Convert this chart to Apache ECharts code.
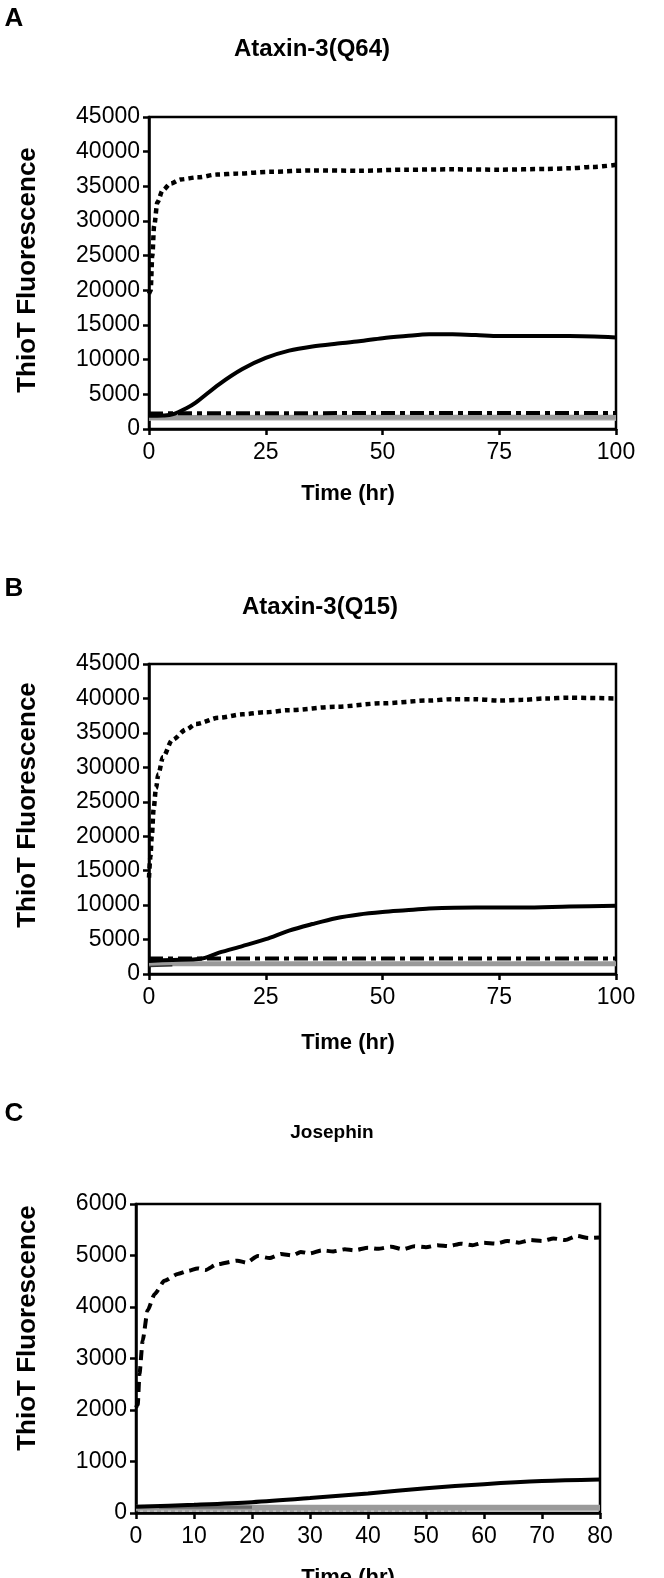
<!DOCTYPE html>
<html><head><meta charset="utf-8">
<script src="https://cdn.jsdelivr.net/npm/echarts@6/dist/echarts.min.js"></script>
<style>html,body{margin:0;padding:0;background:#fff}#c{width:664px;height:1578px}</style>
</head><body><div id="c"></div>
<script>
// ---------- Panel A: Ataxin-3(Q64) ----------
const A_time_fast = [0, 0.35, 0.7, 1.1, 1.8, 2.9, 4.6, 6.8, 10.4, 14.6, 19, 26, 35, 45, 55, 65, 75, 85, 90, 95, 100];
const A_fast      = [19500, 20000, 24900, 29300, 32700, 34400, 35400, 36000, 36300, 36700, 36850, 37100, 37300, 37250, 37400, 37450, 37400, 37500, 37600, 37800, 38100];
const A_time_grow = [0, 3, 5, 8, 10, 15, 20, 25, 30, 35, 40, 45, 50, 55, 60, 65, 70, 75, 80, 90, 100];
const A_grow      = [1900, 1950, 2100, 3000, 3800, 6450, 8650, 10250, 11300, 11900, 12300, 12650, 13100, 13400, 13650, 13650, 13550, 13400, 13400, 13400, 13200];
const A_time_flat = [0, 50, 100];
const A_dashdot   = [2250, 2300, 2300];
const A_gray      = [1650, 1700, 1700];
const A_lightgray = [1400, 1400, 1400];

// ---------- Panel B: Ataxin-3(Q15) ----------
const B_time_fast = [0, 0.3, 0.6, 1, 1.5, 2, 3, 5, 8, 10, 15, 20, 25, 30, 40, 50, 60, 65, 70, 75, 80, 85, 90, 100];
const B_fast      = [14000, 17000, 20000, 24000, 27000, 29000, 31500, 34000, 35500, 36300, 37200, 37700, 38000, 38300, 38800, 39300, 39700, 39900, 39900, 39700, 39800, 40000, 40100, 40000];
const B_time_grow = [0, 5, 10, 12, 15, 20, 25, 30, 35, 40, 45, 50, 55, 60, 70, 80, 90, 100];
const B_grow      = [1900, 2050, 2150, 2350, 3100, 4050, 5050, 6300, 7250, 8100, 8650, 9000, 9250, 9500, 9650, 9650, 9800, 9900];
const B_time_flat = [0, 50, 100];
const B_dashdot   = [2250, 2250, 2250];
const B_gray      = [1500, 1500, 1500];
const B_time_short = [0, 5];
const B_short     = [1100, 1200];

// ---------- Panel C: Josephin ----------
const C_time_fast = [0,0.3,0.6,1.15,2,3.2,4.9,7.2,9,10.6,12,14,17.5,19,21,23,25,27,28.4,30,32,34,36,37.6,40,41.7,44,46,48,50,52,54,56,58,60,62,64,66,68,70,72,74,76,78,80];
const C_fast      = [2050,2100,2700,3350,3930,4250,4510,4640,4700,4750,4720,4830,4900,4860,4990,4950,5030,5000,5070,5040,5100,5080,5120,5100,5150,5130,5170,5120,5180,5160,5200,5180,5230,5200,5250,5230,5280,5250,5300,5280,5330,5300,5380,5340,5350];
const C_time_grow = [0, 10, 20, 30, 40, 50, 60, 70, 80];
const C_grow      = [120, 160, 210, 290, 380, 480, 560, 620, 650];
const C_time_flat = [0, 40, 80];
const C_gray      = [100, 100, 100];
const C_time_dark = [4, 20];
const C_dark      = [110, 110];
const C_time_thin = [0, 57];
const C_thin      = [40, 40];

// ---------- Titles / labels ----------
const panelLetters = ['A', 'B', 'C'];
const panelTitles = ['Ataxin-3(Q64)', 'Ataxin-3(Q15)', 'Josephin'];
const yAxisName = 'ThioT Fluorescence';
const xAxisName = 'Time (hr)';

const zip = (t, v) => t.map((x, i) => [x, v[i]]);
const FONT = '"Liberation Sans", Arial, sans-serif';

const grids = [
  {left: 149, top: 117, width: 467, height: 312},
  {left: 149, top: 664, width: 467, height: 310},
  {left: 136, top: 1204, width: 464, height: 309}
];
const xRanges = [[0, 100, 25], [0, 100, 25], [0, 80, 10]];
const yRanges = [[0, 45000, 5000], [0, 45000, 5000], [0, 6000, 1000]];

const axisCommon = {
  axisLine: {show: true, lineStyle: {color: '#000', width: 2.5}},
  axisTick: {show: true, inside: false, length: 6, lineStyle: {color: '#000', width: 2.5}},
  splitLine: {show: false},
  axisLabel: {color: '#000', fontFamily: FONT, fontSize: 23, formatter: v => String(v)}
};

const xAxes = xRanges.map((r, i) => Object.assign({}, axisCommon, {
  type: 'value', gridIndex: i, min: r[0], max: r[1], interval: r[2],
  axisLabel: Object.assign({}, axisCommon.axisLabel, {margin: 12})
}));
const yAxes = yRanges.map((r, i) => Object.assign({}, axisCommon, {
  type: 'value', gridIndex: i, min: r[0], max: r[1], interval: r[2],
  axisLabel: Object.assign({}, axisCommon.axisLabel, {margin: 9})
}));

function line(idx, t, v, style, extra) {
  return Object.assign({
    type: 'line', xAxisIndex: idx, yAxisIndex: idx, data: zip(t, v),
    showSymbol: false, symbol: 'none', animation: false,
    lineStyle: style
  }, extra || {});
}

const dotted = {color: '#000', width: 4.5, type: [5, 4]};
const dashdot = {color: '#000', width: 4, type: [14, 5, 5, 5]};
const solid = {color: '#000', width: 4};

const series = [
  line(0, A_time_flat, A_lightgray, {color: '#c8c8c8', width: 3}),
  line(0, A_time_flat, A_gray, {color: '#9a9a9a', width: 5}),
  line(0, A_time_flat, A_dashdot, dashdot),
  line(0, A_time_grow, A_grow, solid, {smooth: 0.3}),
  line(0, A_time_fast, A_fast, dotted, {smooth: 0.3, smoothMonotone: 'x'}),

  line(1, B_time_flat, B_gray, {color: '#9a9a9a', width: 5}),
  line(1, B_time_short, B_short, {color: '#333', width: 1.5}),
  line(1, B_time_flat, B_dashdot, dashdot),
  line(1, B_time_grow, B_grow, solid, {smooth: 0.3}),
  line(1, B_time_fast, B_fast, dotted, {smooth: 0.3, smoothMonotone: 'x'}),

  line(2, C_time_thin, C_thin, {color: '#777', width: 1, type: [4, 3]}),
  line(2, C_time_flat, C_gray, {color: '#9a9a9a', width: 6}),
  line(2, C_time_dark, C_dark, {color: '#666', width: 3}),
  line(2, C_time_grow, C_grow, solid, {smooth: 0.3}),
  line(2, C_time_fast, C_fast, {color: '#000', width: 4, type: [10, 6]}, {smooth: 0.2, smoothMonotone: 'x'})
];

function txt(x, y, text, font, rot) {
  return {type: 'text', x: x, y: y, rotation: rot || 0, silent: true,
    style: {text: text, font: font, fill: '#000', textAlign: 'center', textVerticalAlign: 'middle'}};
}
const graphic = [
  txt(14, 19, panelLetters[0], 'bold 26px ' + FONT),
  txt(312, 49, panelTitles[0], 'bold 24px ' + FONT),
  txt(28, 270, yAxisName, 'bold 26px ' + FONT, Math.PI / 2),
  txt(348, 494, xAxisName, 'bold 22px ' + FONT),

  txt(14, 589, panelLetters[1], 'bold 26px ' + FONT),
  txt(320, 607, panelTitles[1], 'bold 24px ' + FONT),
  txt(28, 805, yAxisName, 'bold 26px ' + FONT, Math.PI / 2),
  txt(348, 1043, xAxisName, 'bold 22px ' + FONT),

  txt(14, 1114, panelLetters[2], 'bold 26px ' + FONT),
  txt(332, 1133, panelTitles[2], 'bold 19px ' + FONT),
  txt(28, 1328, yAxisName, 'bold 26px ' + FONT, Math.PI / 2),
  txt(348, 1578, xAxisName, 'bold 22px ' + FONT)
];

const chart = echarts.init(document.getElementById('c'), null, {renderer: 'canvas'});
chart.setOption({
  backgroundColor: '#fff',
  animation: false,
  grid: grids.map(g => Object.assign({show: true, borderColor: '#000', borderWidth: 2.5, backgroundColor: 'transparent'}, g)),
  xAxis: xAxes,
  yAxis: yAxes,
  series: series,
  graphic: graphic
});
</script></body></html>
